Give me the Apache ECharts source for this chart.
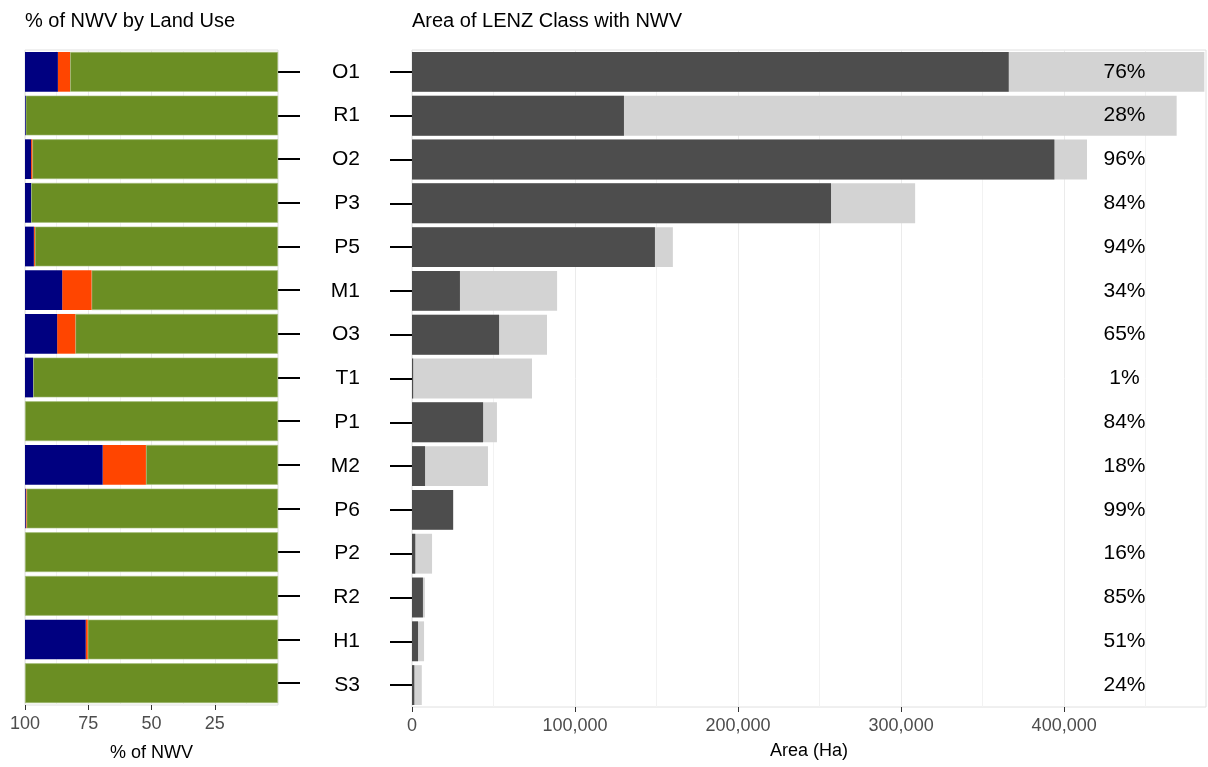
<!DOCTYPE html>
<html><head><meta charset="utf-8">
<script src="https://cdn.jsdelivr.net/npm/echarts@6/dist/echarts.min.js"></script>
<style>html,body{margin:0;padding:0;background:#fff}#c{width:1208px;height:767px}</style>
</head><body><div id="c"></div>
<script>
const categories = ['O1','R1','O2','P3','P5','M1','O3','T1','P1','M2','P6','P2','R2','H1','S3'];
// Left panel: % of NWV by land use
const navyPct   = [13, 0.3, 2.4, 2.4, 3.5, 14.7, 12.7, 3.2, 0, 30.7, 0.3, 0, 0, 24, 0];
const orangePct = [4.8, 0, 0.5, 0, 0.4, 11.6, 7.2, 0, 0, 17.1, 0.3, 0, 0, 0.8, 0];
const greenPct  = navyPct.map((v,i)=> 100 - v - orangePct[i]);
const leftTicks = [100, 75, 50, 25];
// Right panel: area (Ha)
const totalArea = [486000, 469000, 414000, 308600, 160000, 89000, 82800, 73600, 52100, 46600, 25400, 12300, 7900, 7400, 6000];
const nwvArea   = [366000, 130000, 394000, 257000, 149000, 29400, 53400, 700, 43600, 8000, 25200, 2000, 6700, 3700, 1400];
const pctLabels = ['76%','28%','96%','84%','94%','34%','65%','1%','84%','18%','99%','16%','85%','51%','24%'];
const rightTicks = [0, 100000, 200000, 300000, 400000];
const labelX = 437000;

const chart = echarts.init(document.getElementById('c'));
const font = 'Liberation Sans, Arial, sans-serif';
const gridBorder = '#e0e0e0';
chart.setOption({
  animation:false,
  textStyle:{fontFamily:font},
  title:[
    {text:'% of NWV by Land Use', left:20, top:6, textStyle:{fontSize:20, fontWeight:'normal', color:'#000', fontFamily:font}},
    {text:'Area of LENZ Class with NWV', left:407, top:6, textStyle:{fontSize:20, fontWeight:'normal', color:'#000', fontFamily:font}}
  ],
  grid:[
    {left:25, right:930, top:50, bottom:60, show:true, borderColor:gridBorder, borderWidth:1},
    {left:412, right:2, top:50, bottom:60, show:true, borderColor:gridBorder, borderWidth:1}
  ],
  xAxis:[
    {gridIndex:0, type:'value', inverse:true, min:0, max:100, interval:25,
     name:'% of NWV', nameLocation:'middle', nameGap:39, nameTextStyle:{fontSize:18, color:'#000'},
     axisLine:{show:false}, axisTick:{show:true, length:5, lineStyle:{color:'#333'}, customValues:leftTicks},
     axisLabel:{fontSize:18, color:'#4d4d4d', margin:10, customValues:leftTicks},
     splitLine:{show:true, lineStyle:{color:'#ebebeb'}},
     minorTick:{show:false, splitNumber:2}, minorSplitLine:{show:true, lineStyle:{color:'#f2f2f2'}}},
    {gridIndex:1, type:'value', min:0, max:487000, interval:100000,
     name:'Area (Ha)', nameLocation:'middle', nameGap:35, nameTextStyle:{fontSize:18, color:'#000'},
     axisLine:{show:false}, axisTick:{show:true, length:5, lineStyle:{color:'#333'}, customValues:rightTicks},
     axisLabel:{fontSize:18, color:'#4d4d4d', margin:10, customValues:rightTicks,
       formatter:v=> Number(v).toLocaleString('en-US')},
     splitLine:{show:true, lineStyle:{color:'#ebebeb'}},
     minorTick:{show:false, splitNumber:2}, minorSplitLine:{show:true, lineStyle:{color:'#f2f2f2'}}}
  ],
  yAxis:[
    {gridIndex:0, type:'category', data:categories, inverse:true, position:'right',
     axisLine:{show:false}, axisTick:{show:true, alignWithLabel:true, length:22, lineStyle:{color:'#000', width:2}},
     axisLabel:{show:false}, splitLine:{show:false}},
    {gridIndex:1, type:'category', data:categories, inverse:true, position:'left',
     axisLine:{show:false}, axisTick:{show:true, alignWithLabel:true, length:22, lineStyle:{color:'#000', width:2}},
     axisLabel:{show:true, fontSize:21, color:'#000', margin:52}, splitLine:{show:false}}
  ],
  series:[
    {type:'bar', xAxisIndex:0, yAxisIndex:0, stack:'lu', data:greenPct, barCategoryGap:'9%',
     itemStyle:{color:'#6b8e23', borderColor:'#a8bf80', borderWidth:0.6}},
    {type:'bar', xAxisIndex:0, yAxisIndex:0, stack:'lu', data:orangePct,
     itemStyle:{color:'#ff4500'}},
    {type:'bar', xAxisIndex:0, yAxisIndex:0, stack:'lu', data:navyPct,
     itemStyle:{color:'#000080'}},
    {type:'bar', xAxisIndex:1, yAxisIndex:1, data:totalArea, barCategoryGap:'9%', barGap:'-100%',
     itemStyle:{color:'#d3d3d3'}},
    {type:'bar', xAxisIndex:1, yAxisIndex:1, data:nwvArea, barGap:'-100%',
     itemStyle:{color:'#4d4d4d'}},
    {type:'scatter', xAxisIndex:1, yAxisIndex:1, symbolSize:0, itemStyle:{opacity:1},
     data:pctLabels.map((t,i)=>({value:[labelX, categories[i]], label:{formatter:t}})),
     label:{show:true, position:'inside', fontSize:21, color:'#000', textBorderWidth:0, opacity:1}, silent:true}
  ]
});
</script></body></html>
